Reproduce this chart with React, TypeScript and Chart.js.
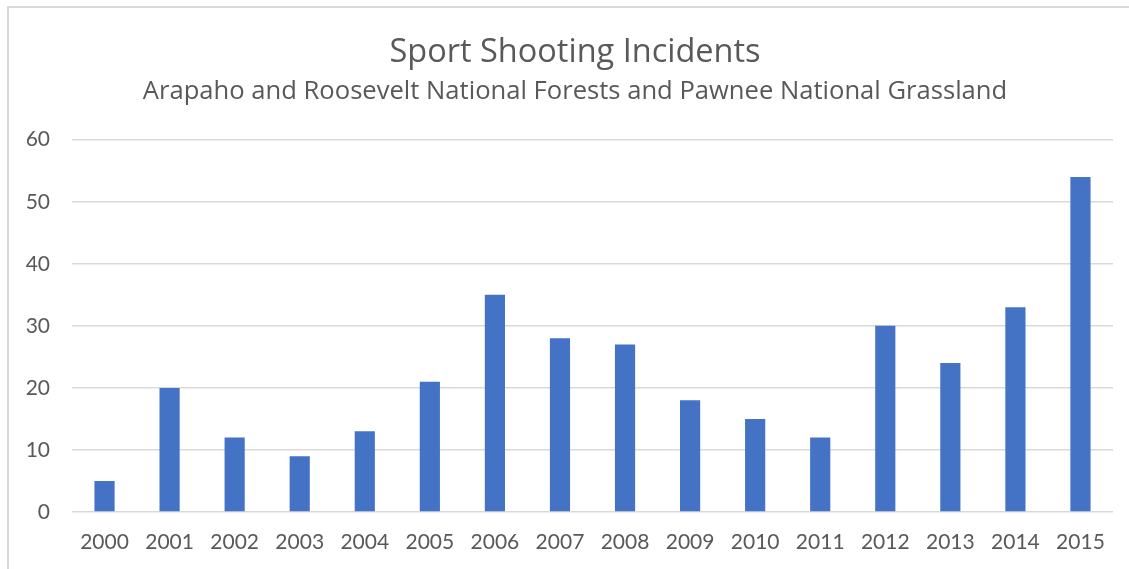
import React, { useEffect, useRef } from "react";
import { Chart, registerables } from "chart.js";

Chart.register(...registerables);

const years = ["2000", "2001", "2002", "2003", "2004", "2005", "2006", "2007", "2008", "2009", "2010", "2011", "2012", "2013", "2014", "2015"];
const incidents = [5, 20, 12, 9, 13, 21, 35, 28, 27, 18, 15, 12, 30, 24, 33, 54];
const titleText = "Sport Shooting Incidents";
const subtitleText = "Arapaho and Roosevelt National Forests and Pawnee National Grassland";

const FONT = "Lato, 'Open Sans', sans-serif";
const TFONT = "'Open Sans', Lato, sans-serif";
const TEXT = "#595959";

const widenYLabelArea = {
  id: "widenYLabelArea",
  afterLayout(chart: any) {
    const y = chart.scales.y;
    if (y) y.left = 0;
  },
};

export default function App() {
  const ref = useRef<HTMLCanvasElement | null>(null);
  useEffect(() => {
    if (!ref.current) return;
    const chart = new Chart(ref.current, {
      type: "bar",
      data: {
        labels: years,
        datasets: [
          {
            label: "Incidents",
            data: incidents,
            backgroundColor: "#4472C4",
            borderWidth: 0,
            barPercentage: 0.31,
            categoryPercentage: 1,
          },
        ],
      },
      plugins: [widenYLabelArea],
      options: {
        animation: false,
        responsive: false,
        devicePixelRatio: 1,
        layout: { padding: { left: 37, right: 16, top: 0, bottom: 0 }, autoPadding: false },
        plugins: {
          legend: { display: false },
          tooltip: { enabled: false },
          title: {
            display: true,
            text: titleText,
            color: TEXT,
            font: { family: TFONT, size: 32.5, weight: "normal", lineHeight: 1.2 },
            padding: { top: 33, bottom: 4 },
          },
          subtitle: {
            display: true,
            text: subtitleText,
            color: TEXT,
            font: { family: TFONT, size: 25.6, weight: "normal", lineHeight: 1.2 },
            padding: { top: 0, bottom: 33 },
          },
        },
        scales: {
          x: {
            grid: { display: false, drawTicks: false },
            border: { display: false },
            ticks: { color: TEXT, font: { family: FONT, size: 21 }, padding: 18, maxRotation: 0, autoSkip: false },
            afterFit: (s: any) => { s.height = 57; },
          },
          y: {
            min: 0,
            max: 60,
            ticks: { stepSize: 10, color: TEXT, font: { family: FONT, size: 21 }, padding: 22 },
            grid: { color: "#d9d9d9", lineWidth: 1.5, drawTicks: false },
            border: { display: false },
            afterFit: (s: any) => { s.width = 35; },
          },
        },
      },
    });
    return () => chart.destroy();
  }, []);
  return (
    <div style={{ position: "fixed", left: 0, top: 0, width: 1129, height: 569, background: "#fff", overflow: "hidden" }}>
      <div style={{ position: "absolute", left: 7, top: 6, width: 1300, height: 800, border: "2px solid #d9d9d9", boxSizing: "border-box" }} />
      <canvas ref={ref} width={1129} height={569} style={{ position: "absolute", left: 0, top: 0 }} />
    </div>
  );
}
